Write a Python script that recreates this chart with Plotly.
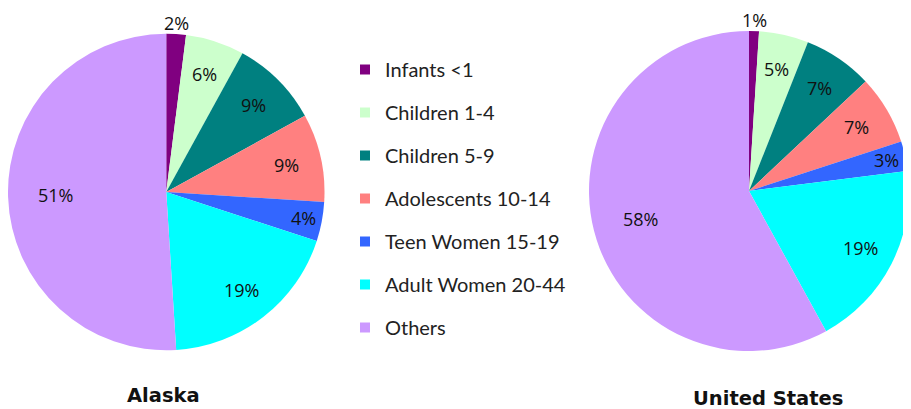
import math
import plotly.graph_objects as go

categories = ["Infants <1", "Children 1-4", "Children 5-9", "Adolescents 10-14",
              "Teen Women 15-19", "Adult Women 20-44", "Others"]
alaska_pct = [2, 6, 9, 9, 4, 19, 51]
us_pct = [1, 5, 7, 7, 3, 19, 58]
colors = ["#800080", "#CCFFCC", "#008080", "#FF8080", "#3366FF", "#00FFFF", "#CC99FF"]
titles = ["Alaska", "United States"]

W, H = 911, 409
OFF = 8  # page body margin


def fx(px):
    return (px - OFF) / W


def fy(py):
    return 1 - (py - OFF) / H


def clamp(v):
    return min(1.0, max(0.0, v))


def dom(cx, cy, r):
    return dict(x=[clamp(fx(cx - r)), clamp(fx(cx + r))],
                y=[clamp(fy(cy + r)), clamp(fy(cy - r))])


pct_font = dict(family="Open Sans, DejaVu Sans, sans-serif", size=18, color="#111111")

pies = [
    (alaska_pct, 166, 192, 158.5, titles[0], 163, 395),
    (us_pct, 749, 191, 160, titles[1], 768, 398),
]

fig = go.Figure()
for vals, cx, cy, r, title, tx, ty in pies:
    fig.add_trace(go.Pie(
        labels=categories, values=vals, sort=False, direction="clockwise", rotation=0,
        marker=dict(colors=colors, line=dict(width=0)),
        textinfo="none",
        domain=dom(cx, cy, r), showlegend=False, hoverinfo="label+value",
    ))
    total = sum(vals)
    cum = 0.0
    for v in vals:
        mid = (cum + v / 2) / total * 2 * math.pi
        cum += v
        if v <= 2:
            f = 1.07
        elif v < 5:
            f = 0.88
        elif v > 50:
            f = 0.7
        else:
            f = 0.78
        lx = cx + f * r * math.sin(mid)
        ly = cy - f * r * math.cos(mid)
        fig.add_annotation(text=f"{v}%", x=fx(lx), y=fy(ly), xref="paper", yref="paper",
                           xanchor="center", yanchor="middle", showarrow=False, font=pct_font)
    fig.add_annotation(text=f"<b>{title}</b>", x=fx(tx), y=fy(ty), xref="paper", yref="paper",
                       xanchor="center", yanchor="middle", showarrow=False,
                       font=dict(family="DejaVu Sans, sans-serif", size=19.5, color="#111111"))

# legend entries from categories
for i, (c, col) in enumerate(zip(categories, colors)):
    fig.add_trace(go.Scatter(
        x=[None], y=[None], mode="markers", name=c, legendgroup=f"g{i}",
        marker=dict(symbol="square", size=10, color=col), showlegend=True,
    ))

fig.update_layout(
    width=W, height=H, margin=dict(l=0, r=0, t=0, b=0),
    paper_bgcolor="white", plot_bgcolor="white",
    xaxis=dict(visible=False), yaxis=dict(visible=False),
    legend=dict(x=fx(345), y=fy(50), xanchor="left", yanchor="top",
                traceorder="grouped", tracegroupgap=14, itemclick=False,
                font=dict(family="Lato, sans-serif", size=20, color="#222222"),
                bgcolor="rgba(0,0,0,0)"),
)

fig.write_html("out.html")
